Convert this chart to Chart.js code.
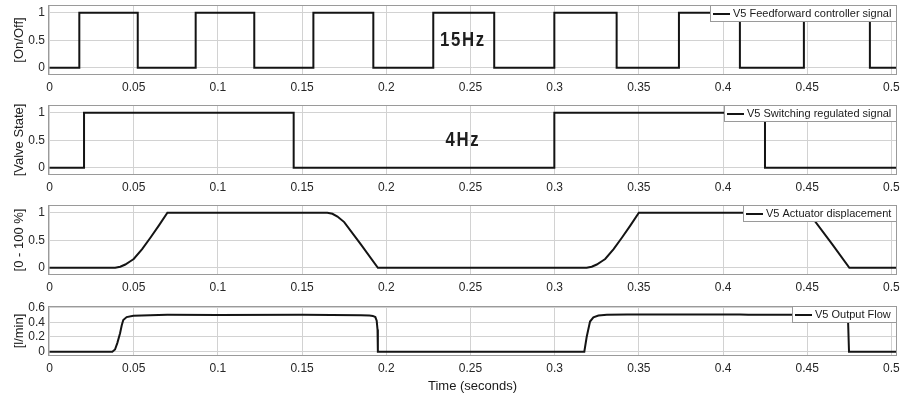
<!DOCTYPE html>
<html>
<head>
<meta charset="utf-8">
<script src="https://cdn.jsdelivr.net/npm/chart.js@4.4.1/dist/chart.umd.min.js"></script>
<style>
  html, body { margin: 0; padding: 0; background: #ffffff; }
  #wrap { position: relative; width: 901px; height: 399px; background: #ffffff; overflow: hidden; }
  canvas { position: absolute; left: 0; }
</style>
</head>
<body>
<div id="wrap">
  <canvas id="c1" width="901" height="100" style="top:0px"></canvas>
  <canvas id="c2" width="901" height="100" style="top:100px"></canvas>
  <canvas id="c3" width="901" height="100" style="top:200px"></canvas>
  <canvas id="c4" width="901" height="99" style="top:300px"></canvas>
</div>
<script>
// ---------- data ----------
const xTicks = [0, 0.05, 0.1, 0.15, 0.2, 0.25, 0.3, 0.35, 0.4, 0.45, 0.5];
const xTickLabels = ['0', '0.05', '0.1', '0.15', '0.2', '0.25', '0.3', '0.35', '0.4', '0.45', '0.5'];
const xTitle = 'Time (seconds)';

// Panel 1: feedforward controller signal (on/off)
const ffTime  = [0, 0.0177, 0.0524, 0.0868, 0.1216, 0.1567, 0.1923, 0.2279, 0.2641, 0.2998, 0.3368, 0.3738, 0.4100, 0.4480, 0.4872, 0.5030];
const ffValue = [0, 1, 0, 1, 0, 1, 0, 1, 0, 1, 0, 1, 0, 1, 0, 0];

// Panel 2: switching regulated signal (valve state)
const swTime  = [0, 0.0205, 0.1450, 0.2998, 0.4249, 0.5030];
const swValue = [0, 1, 0, 1, 0, 0];

// Panel 3: actuator displacement (0 - 100 %)
const actTime  = [0, 0.039, 0.042, 0.045, 0.048, 0.050, 0.055, 0.060, 0.065, 0.070, 0.165, 0.168, 0.171, 0.175, 0.185, 0.195,
                  0.319, 0.322, 0.325, 0.328, 0.330, 0.335, 0.340, 0.345, 0.350, 0.445, 0.448, 0.451, 0.455, 0.465, 0.475, 0.503];
const actValue = [0, 0, 0.02, 0.06, 0.12, 0.16, 0.34, 0.55, 0.77, 1, 1, 0.98, 0.93, 0.83, 0.42, 0,
                  0, 0.02, 0.06, 0.12, 0.16, 0.34, 0.55, 0.77, 1, 1, 0.98, 0.93, 0.83, 0.42, 0, 0];

// Panel 4: output flow (l/min)
const flowTime  = [0, 0.0373, 0.0389, 0.0403, 0.0419, 0.0429, 0.0438, 0.0458, 0.0498, 0.0597,
                   0.0700, 0.1000, 0.1500, 0.1850, 0.1900, 0.1920, 0.1935, 0.1943, 0.1948, 0.1950,
                   0.3176, 0.3190, 0.3210, 0.3230, 0.3260, 0.3310, 0.3430,
                   0.4100, 0.4150, 0.4700, 0.4730, 0.4742, 0.4748, 0.5030];
const flowValue = [0, 0, 0.03, 0.12, 0.25, 0.36, 0.43, 0.47, 0.487, 0.496,
                   0.5, 0.498, 0.5, 0.495, 0.49, 0.485, 0.47, 0.42, 0.3, 0,
                   0, 0.2, 0.41, 0.465, 0.49, 0.5, 0.505,
                   0.505, 0.5, 0.5, 0.48, 0.45, 0, 0];

const seriesLabels = ['V5 Feedforward controller signal', 'V5 Switching regulated signal', 'V5 Actuator displacement', 'V5 Output Flow'];
const yTitles = ['[On/Off]', '[Valve State]', '[0 - 100 %]', '[l/min]'];
const yTicksA = [0, 0.5, 1];
const yTickLabelsA = ['0', '0.5', '1'];
const yTicksB = [0, 0.2, 0.4, 0.6];
const yTickLabelsB = ['0', '0.2', '0.4', '0.6'];
const noteLabels = ['15Hz', '4Hz', '', ''];
const noteX = 0.2455;
const noteY = 0.5;

// ---------- styling / plugin ----------
const FONT = '"Liberation Sans", Arial, Helvetica, sans-serif';
const GRID = '#d2d2d2';
const BOX = '#9a9a9a';
const LINE = '#141414';

const decoPlugin = {
  id: 'panelDeco',
  afterDraw(chart, args, opts) {
    const ctx = chart.ctx;
    const ca = chart.chartArea;
    ctx.save();
    // axes box
    ctx.strokeStyle = BOX;
    ctx.lineWidth = 1;
    ctx.strokeRect(Math.round(ca.left) + 0.5, Math.round(ca.top) + 0.5,
                   Math.round(ca.right - ca.left) - 1, Math.round(ca.bottom - ca.top) - 1);
    // legend (top-right inside axes)
    const label = chart.data.datasets[0].label;
    ctx.font = '11px ' + FONT;
    const tw = ctx.measureText(label).width;
    const h = 17;
    const w = 23 + tw + 6;
    const x0 = Math.round(ca.right - w);
    const y0 = Math.round(ca.top);
    ctx.fillStyle = '#ffffff';
    ctx.fillRect(x0, y0, w, h);
    ctx.strokeStyle = BOX;
    ctx.lineWidth = 1;
    ctx.strokeRect(x0 + 0.5, y0 + 0.5, Math.round(ca.right) - x0 - 1, h - 1);
    ctx.strokeStyle = LINE;
    ctx.lineWidth = 2;
    ctx.beginPath();
    ctx.moveTo(x0 + 3, y0 + h / 2 + 0.5);
    ctx.lineTo(x0 + 20, y0 + h / 2 + 0.5);
    ctx.stroke();
    ctx.fillStyle = '#1a1a1a';
    ctx.textAlign = 'left';
    ctx.textBaseline = 'middle';
    ctx.fillText(label, x0 + 23, y0 + h / 2 + 0.5);
    // frequency note
    if (opts.note) {
      const px = chart.scales.x.getPixelForValue(opts.noteX);
      const py = chart.scales.y.getPixelForValue(opts.noteY);
      ctx.translate(px, py);
      ctx.scale(0.8, 1);
      ctx.font = 'bold 21px ' + FONT;
      try { ctx.letterSpacing = '2px'; } catch (e) {}
      ctx.fillStyle = '#1e1e1e';
      ctx.textAlign = 'center';
      ctx.textBaseline = 'middle';
      ctx.fillText(opts.note, 0, 0);
    }
    ctx.restore();
  }
};

function makePanel(id, idx, times, values, stepped, yMin, yMax, yTicks, yTickLabels, showXTitle) {
  const canvas = document.getElementById(id);
  const pts = times.map((t, i) => ({ x: t, y: values[i] }));
  return new Chart(canvas, {
    type: 'line',
    data: {
      datasets: [{
        label: seriesLabels[idx],
        data: pts,
        borderColor: LINE,
        borderWidth: 2,
        pointRadius: 0,
        tension: 0,
        stepped: stepped ? 'before' : false,
        fill: false
      }]
    },
    options: {
      responsive: false,
      animation: false,
      events: [],
      layout: { padding: { left: 0, right: 4, top: showXTitle ? 6 : 5, bottom: 0 } },
      plugins: {
        legend: { display: false },
        tooltip: { enabled: false },
        panelDeco: { note: noteLabels[idx], noteX: noteX, noteY: noteY }
      },
      scales: {
        x: {
          type: 'linear',
          min: -0.0009,
          max: 0.5033,
          afterBuildTicks: (s) => { s.ticks = xTicks.map(v => ({ value: v })); },
          afterFit: (s) => {
            s.height = showXTitle ? 43 : 25;
            s.paddingLeft = 0; s.paddingRight = 0;
          },
          ticks: {
            autoSkip: false,
            maxRotation: 0,
            padding: 5,
            color: '#262626',
            font: { family: FONT, size: 12 },
            callback: (v, i) => xTickLabels[i]
          },
          grid: { color: GRID, lineWidth: 1, drawTicks: false },
          border: { display: false },
          title: {
            display: showXTitle,
            text: xTitle,
            color: '#1a1a1a',
            font: { family: FONT, size: 13 },
            padding: { top: 0, bottom: 5 }
          }
        },
        y: {
          type: 'linear',
          min: yMin,
          max: yMax,
          afterBuildTicks: (s) => { s.ticks = yTicks.map(v => ({ value: v })); },
          afterFit: (s) => {
            s.width = 48;
            s.paddingTop = 0; s.paddingBottom = 0;
          },
          ticks: {
            autoSkip: false,
            padding: 3,
            color: '#262626',
            font: { family: FONT, size: 12 },
            callback: (v, i) => yTickLabels[i]
          },
          grid: { color: GRID, lineWidth: 1, drawTicks: false },
          border: { display: false },
          title: {
            display: true,
            text: yTitles[idx],
            color: '#1a1a1a',
            font: { family: FONT, size: 13 },
            padding: { top: 12, bottom: 0 }
          }
        }
      }
    },
    plugins: [decoPlugin]
  });
}

makePanel('c1', 0, ffTime, ffValue, true, -0.13, 1.14, yTicksA, yTickLabelsA, false);
makePanel('c2', 1, swTime, swValue, true, -0.13, 1.14, yTicksA, yTickLabelsA, false);
makePanel('c3', 2, actTime, actValue, false, -0.13, 1.14, yTicksA, yTickLabelsA, false);
makePanel('c4', 3, flowTime, flowValue, false, -0.058, 0.62, yTicksB, yTickLabelsB, true);
</script>
</body>
</html>
